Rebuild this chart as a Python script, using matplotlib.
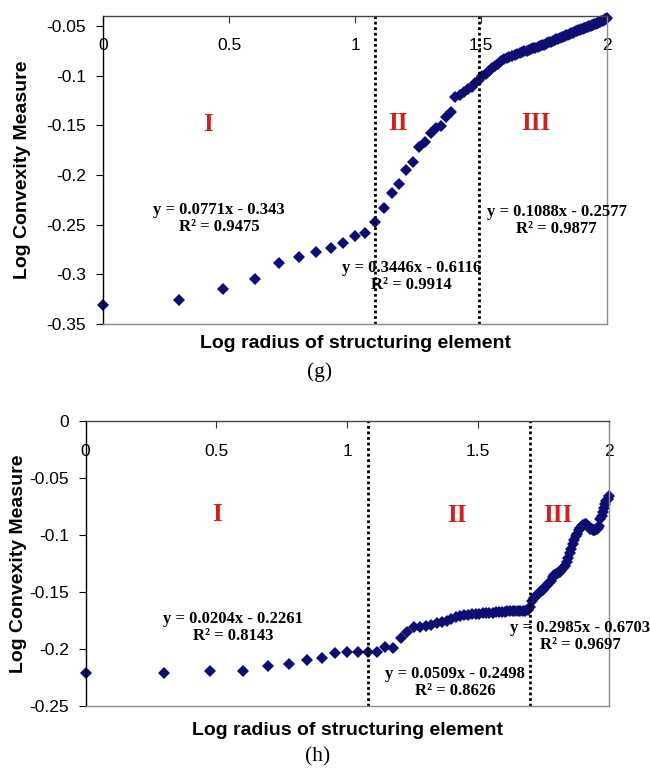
#!/usr/bin/env python3
import matplotlib
matplotlib.use("agg")
import matplotlib.pyplot as plt
import numpy as np

plt.rcParams['font.family'] = ['Liberation Sans', 'DejaVu Sans']
plt.rcParams['axes.unicode_minus'] = False

# radius of structuring element, 1..100 (x axis is log10 of it)
radius = np.arange(1, 101)

# (g) log convexity measure
conv_g = [
    -0.331, -0.326, -0.315, -0.305, -0.2885, -0.2825, -0.278, -0.274, -0.268, -0.261,
    -0.258, -0.247, -0.233, -0.218, -0.209, -0.195, -0.187, -0.172, -0.167, -0.158,
    -0.153, -0.151, -0.142, -0.137, -0.122, -0.120, -0.117, -0.1135, -0.111, -0.107,
    -0.104, -0.100, -0.098, -0.095, -0.092, -0.090, -0.088, -0.085, -0.083, -0.082,
    -0.081, -0.080, -0.079, -0.078, -0.077, -0.076, -0.0755, -0.075, -0.074, -0.073,
    -0.0725, -0.072, -0.071, -0.070, -0.0695, -0.069, -0.068, -0.067, -0.0665, -0.066,
    -0.065, -0.064, -0.0635, -0.063, -0.062, -0.0615, -0.061, -0.060, -0.0595, -0.059,
    -0.058, -0.0575, -0.057, -0.056, -0.0555, -0.055, -0.0545, -0.054, -0.0535, -0.053,
    -0.0525, -0.052, -0.0515, -0.051, -0.0505, -0.050, -0.0495, -0.049, -0.0485, -0.048,
    -0.0475, -0.047, -0.0465, -0.046, -0.0455, -0.045, -0.044, -0.0435, -0.043, -0.042,
]

# (h)
conv_h = [
    -0.2208, -0.2208, -0.2193, -0.2193, -0.2149, -0.2135, -0.2096, -0.2080, -0.2038, -0.2029,
    -0.2029, -0.2025, -0.2025, -0.1986, -0.1988, -0.1906, -0.1848, -0.1804, -0.1804, -0.1800,
    -0.1790, -0.1775, -0.1765, -0.1750, -0.1735, -0.1720, -0.1712, -0.1705, -0.1700, -0.1695,
    -0.1692, -0.1690, -0.1688, -0.1685, -0.1683, -0.1680, -0.1678, -0.1676, -0.1674, -0.1672,
    -0.1670, -0.1668, -0.1668, -0.1666, -0.1666, -0.1665, -0.1666, -0.1667, -0.1660, -0.1630,
    -0.1580, -0.1550, -0.1530, -0.1510, -0.1495, -0.1480, -0.1460, -0.1440, -0.1420, -0.1400,
    -0.1370, -0.1350, -0.1340, -0.1330, -0.1320, -0.1310, -0.1290, -0.1270, -0.1240, -0.1200,
    -0.1160, -0.1120, -0.1080, -0.1040, -0.1010, -0.0990, -0.0960, -0.0940, -0.0925, -0.0915,
    -0.0905, -0.0900, -0.0910, -0.0930, -0.0945, -0.0950, -0.0955, -0.0958, -0.0955, -0.0950,
    -0.0940, -0.0920, -0.0860, -0.0830, -0.0800, -0.0760, -0.0730, -0.0700, -0.0680, -0.0660,
]

breaks_g = [1.079, 1.491]
breaks_h = [1.079, 1.699]
regions = ['I', 'II', 'III']
fits_g = ['y = 0.0771x - 0.343\nR² = 0.9475',
          'y = 0.3446x - 0.6116\nR² = 0.9914',
          'y = 0.1088x - 0.2577\nR² = 0.9877']
fits_h = ['y = 0.0204x - 0.2261\nR² = 0.8143',
          'y = 0.0509x - 0.2498\nR² = 0.8626',
          'y = 0.2985x - 0.6703\nR² = 0.9697']

marker_col = '#0d0d73'
red = '#d02020'
serif = ['Liberation Serif', 'DejaVu Serif']

fig = plt.figure(figsize=(6.5, 7.69), dpi=100)
ax1 = fig.add_axes([0.1585, 0.5787, 0.7754, 0.4005])
ax2 = fig.add_axes([0.1318, 0.0819, 0.8046, 0.3706])


def style(ax, ylim, yticks):
    ax.set_xlim(0, 2)
    ax.set_ylim(*ylim)
    ax.set_xticks([0, 0.5, 1, 1.5, 2])
    ax.set_xticklabels(['0', '0.5', '1', '1.5', '2'])
    ax.set_yticks(yticks)
    ax.set_yticklabels(['%g' % t for t in yticks])
    ax.xaxis.tick_top()
    ax.tick_params(axis='x', direction='in', length=5, pad=-27, labelsize=12.5,
                   color='#333333')
    ax.tick_params(axis='y', direction='out', length=5, pad=7, labelsize=12.5)
    ax.spines['left'].set_color('black')
    ax.spines['top'].set_color('#444444')
    ax.spines['right'].set_color('#8c8c8c')
    ax.spines['bottom'].set_color('#8c8c8c')
    for s in ax.spines.values():
        s.set_linewidth(1.0)
    ax.set_xlabel('Log radius of structuring element', fontsize=14, fontweight='bold')
    ax.set_ylabel('Log Convexity Measure', fontsize=14, fontweight='bold')


# (g)
style(ax1, (-0.35, -0.04), [-0.05, -0.1, -0.15, -0.2, -0.25, -0.3, -0.35])
ax1.plot(np.log10(radius), conv_g, 'D', color=marker_col, ms=6.3, mew=0, clip_on=False)
for b in breaks_g:
    ax1.axvline(b, color='black', lw=2, ls=(0, (1, 1)))
for txt, (x, y) in zip(regions, [(0.415, -0.149), (1.172, -0.148), (1.718, -0.148)]):
    ax1.text(x, y, txt, color=red, fontsize=18, fontweight='bold', family=serif,
             ha='center', va='center')
for txt, (x, y) in zip(fits_g, [(0.46, -0.244), (1.225, -0.3025), (1.80, -0.2457)]):
    ax1.text(x, y, txt, fontsize=12, fontweight='bold', family=serif,
             ha='center', va='center', linespacing=1.1, clip_on=False)
ax1.xaxis.set_label_coords(0.5, -0.035)
ax1.yaxis.set_label_coords(-0.143, 0.5)

# (h)
style(ax2, (-0.25, 0), [0, -0.05, -0.1, -0.15, -0.2, -0.25])
ax2.plot(np.log10(radius), conv_h, 'D', color=marker_col, ms=6.3, mew=0, clip_on=False)
for b in breaks_h:
    ax2.axvline(b, color='black', lw=2, ls=(0, (1, 1)))
for txt, (x, y) in zip(regions, [(0.501, -0.0816), (1.419, -0.0825), (1.807, -0.0825)]):
    ax2.text(x, y, txt, color=red, fontsize=18, fontweight='bold', family=serif,
             ha='center', va='center')
for txt, (x, y) in zip(fits_h, [(0.564, -0.1814), (1.413, -0.2291), (1.890, -0.1888)]):
    ax2.text(x, y, txt, fontsize=12, fontweight='bold', family=serif,
             ha='center', va='center', linespacing=1.1, clip_on=False)
ax2.xaxis.set_label_coords(0.5, -0.055)
ax2.yaxis.set_label_coords(-0.112, 0.5)

fig.text(0.491, 1 - 372 / 769, '(g)', fontsize=15.5, family=serif, ha='center', va='center')
fig.text(0.488, 1 - 757 / 769, '(h)', fontsize=15.5, family=serif, ha='center', va='center')

plt.savefig('out.png', dpi=100)
plt.close()
